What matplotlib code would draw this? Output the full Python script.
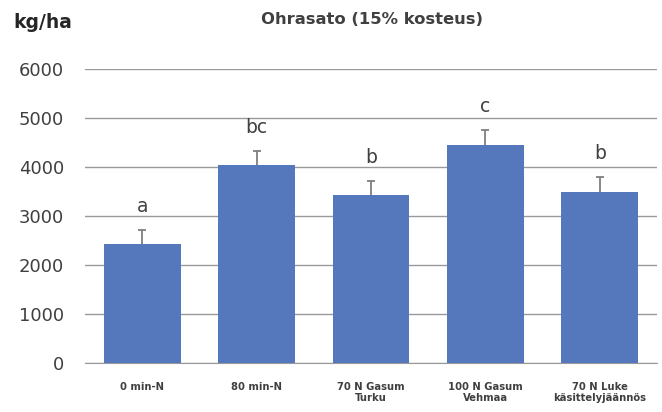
import matplotlib
matplotlib.use("Agg")
import matplotlib.pyplot as plt
import numpy as np

# data
categories = ["0 min-N", "80 min-N", "70 N Gasum\nTurku", "100 N Gasum\nVehmaa", "70 N Luke\nkäsittelyjäännös"]
yields = [2430, 4040, 3430, 4450, 3490]
errors = [290, 290, 290, 300, 300]
letters = ["a", "bc", "b", "c", "b"]
yticks = [0, 1000, 2000, 3000, 4000, 5000, 6000]

plt.rcParams['font.family'] = ['DejaVu Sans']
text_col = '#404040'
bar_col = '#5577bc'
err_col = '#7f7f7f'

fig = plt.figure(figsize=(6.62, 4.12), dpi=100)
ax = fig.add_axes([85 / 662, 1 - 363 / 412, 572 / 662, (363 - 69) / 412])

x = np.arange(len(categories))
tops = np.array(yields) + np.array(errors)
ax.bar(x, yields, width=0.67, color=bar_col, zorder=3)
# only the upper half of the error bar is shown
ax.vlines(x, yields, tops, color=err_col, linewidth=1.3, zorder=4)
ax.hlines(tops, x - 0.035, x + 0.035, color=err_col, linewidth=1.3, zorder=4)

for xi, t, lab in zip(x, tops, letters):
    ax.annotate(lab, (xi, t), xytext=(0, 13), textcoords='offset points',
                ha='center', va='baseline', fontsize=13.5, color=text_col)

ax.set_xlim(-0.5, len(categories) - 0.5)
ax.set_ylim(0, 6000)
ax.set_yticks(yticks)
ax.set_yticklabels([str(t) for t in yticks], fontsize=13, color=text_col)
ax.set_xticks(x)
ax.set_xticklabels(categories, fontsize=7.2, fontweight='bold', color=text_col, linespacing=1.05)
ax.tick_params(axis='both', length=0)
ax.tick_params(axis='y', pad=15)
ax.tick_params(axis='x', pad=14)
ax.yaxis.grid(True, color='#999999', linewidth=1, zorder=0)
ax.set_axisbelow(True)
for s in ['top', 'right', 'left']:
    ax.spines[s].set_visible(False)
ax.spines['bottom'].set_color('#999999')

fig.text(372 / 662, 1 - 20 / 412, "Ohrasato (15% kosteus)", ha='center', va='center',
         fontsize=11.8, fontweight='bold', color=text_col)
fig.text(13 / 662, 1 - 22 / 412, "kg/ha", ha='left', va='center',
         fontsize=13.5, fontweight='bold', color='#262626')

fig.savefig("out.png", dpi=100)
